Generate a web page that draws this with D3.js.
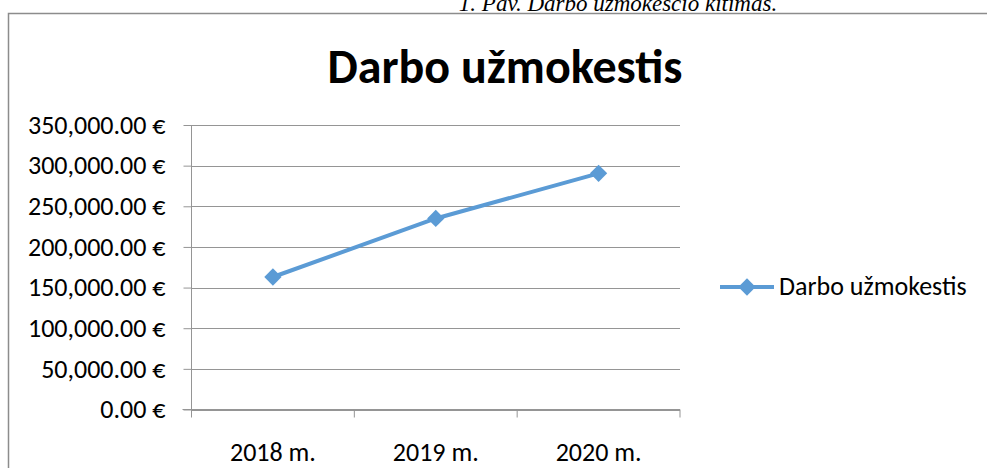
<!DOCTYPE html>
<html>
<head>
<meta charset="utf-8">
<script src="https://cdn.jsdelivr.net/npm/d3@7"></script>
<style>
  body { margin: 0; background: #fff; }
  svg { display: block; }
  .tick text { font-family: Carlito, Calibri, Lato, sans-serif; fill: #000; }
</style>
</head>
<body>
<svg id="chart"></svg>
<script>
var years = ["2018 m.", "2019 m.", "2020 m."];
var salary = [163000, 235000, 290500];
var yTicks = [0, 50000, 100000, 150000, 200000, 250000, 300000, 350000];
var seriesName = "Darbo užmokestis";
var chartTitle = "Darbo užmokestis";
var caption = "1.   Pav. Darbo užmokesčio kitimas.";

var width = 987,
  height = 468,
  font = "Carlito, Calibri, Lato, sans-serif",
  blue = "#5B9BD5",
  grey = "#959595";

var svg = d3.select("#chart")
  .attr("width", width)
  .attr("height", height);

// caption from the document, cut off at the top
svg.append("text")
  .attr("x", 618)
  .attr("y", 11)
  .attr("text-anchor", "middle")
  .style("font-family", "'Liberation Serif', 'Times New Roman', serif")
  .style("font-style", "italic")
  .style("font-size", "23px")
  .text(caption);

// chart frame
svg.append("path")
  .attr("d", "M8.5,480V13.5H995")
  .attr("fill", "none")
  .attr("stroke", "#8c8c8c")
  .attr("stroke-width", 1.5);

svg.append("text")
  .attr("x", 505)
  .attr("y", 83)
  .attr("text-anchor", "middle")
  .style("font-family", font)
  .style("font-weight", "bold")
  .style("font-size", "48px")
  .text(chartTitle);

var x = d3.scaleBand()
  .domain(years)
  .range([191.5, 680]);

var y = d3.scaleLinear()
  .domain([0, 350000])
  .range([409.5, 125]);

// gridlines
svg.append("g")
  .selectAll("line")
  .data(yTicks)
  .join("line")
  .attr("x1", x.range()[0])
  .attr("x2", x.range()[1])
  .attr("y1", d => Math.round(y(d)) + 0.5)
  .attr("y2", d => Math.round(y(d)) + 0.5)
  .attr("stroke", grey)
  .attr("stroke-width", 1);

var yAxis = svg.append("g")
  .attr("transform", "translate(" + x.range()[0] + ",0)")
  .call(d3.axisLeft(y)
    .tickValues(yTicks)
    .tickSize(8)
    .tickPadding(18)
    .tickFormat(d => d3.format(",.2f")(d) + " €"));

yAxis.selectAll("line, path").attr("stroke", grey);
yAxis.select(".domain").attr("d", "M0," + y(0) + "V" + y(350000));
yAxis.selectAll("text").style("font-size", "26px");

var xAxis = svg.append("g")
  .attr("transform", "translate(0," + y(0) + ")")
  .call(d3.axisBottom(x).tickSize(0).tickPadding(33));

xAxis.select(".domain").attr("stroke", grey).attr("d", "M" + (x.range()[0] - 9) + ",0H" + x.range()[1]);
xAxis.selectAll("text").style("font-size", "26px");

// category boundary ticks
xAxis.append("g")
  .selectAll("line")
  .data(years.map(d => x(d)).concat([x.range()[1]]))
  .join("line")
  .attr("x1", d => d)
  .attr("x2", d => d)
  .attr("y1", 0)
  .attr("y2", 8)
  .attr("stroke", grey);

var line = d3.line()
  .x((d, i) => x(years[i]) + x.bandwidth() / 2)
  .y(d => y(d));

svg.append("path")
  .datum(salary)
  .attr("d", line)
  .attr("fill", "none")
  .attr("stroke", blue)
  .attr("stroke-width", 4)
  .attr("stroke-linejoin", "round");

var diamond = d3.symbol().type(d3.symbolDiamond2).size(190);

svg.append("g")
  .selectAll("path")
  .data(salary)
  .join("path")
  .attr("transform", (d, i) => "translate(" + (x(years[i]) + x.bandwidth() / 2) + "," + y(d) + ")")
  .attr("d", diamond)
  .attr("fill", blue);

// legend
var legend = svg.append("g").attr("transform", "translate(720,287)");
legend.append("line")
  .attr("x1", 0).attr("x2", 54)
  .attr("stroke", blue)
  .attr("stroke-width", 4);
legend.append("path")
  .attr("transform", "translate(27,0)")
  .attr("d", diamond)
  .attr("fill", blue);
legend.append("text")
  .attr("x", 59)
  .attr("y", 8)
  .style("font-family", font)
  .style("font-size", "26px")
  .text(seriesName);
</script>
</body>
</html>
